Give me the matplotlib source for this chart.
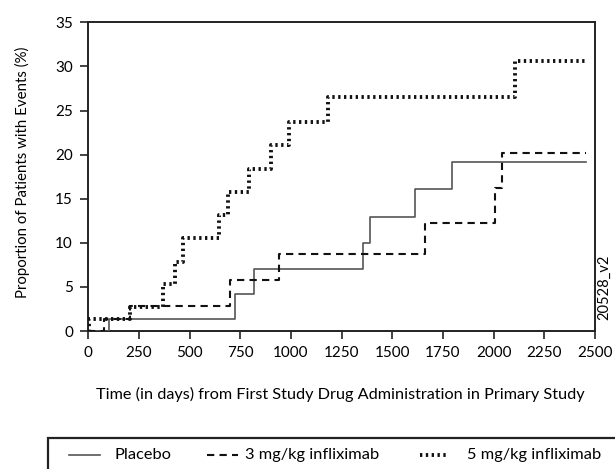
import matplotlib
matplotlib.use("Agg")
import matplotlib.pyplot as plt
from matplotlib.lines import Line2D
from matplotlib.patches import Rectangle

plt.rcParams['font.family'] = ['Lato', 'DejaVu Sans']

# Kaplan-Meier style cumulative event curves (days, %)
placebo_t = [0, 102, 723, 818, 1356, 1392, 1611, 1796, 2454]
placebo_v = [0, 1.33, 4.16, 7.0, 10.0, 12.96, 16.1, 19.2, 19.2]
mg3_t = [0, 75, 206, 698, 940, 1660, 2005, 2043, 2454]
mg3_v = [0, 1.4, 2.83, 5.78, 8.7, 12.2, 16.25, 20.2, 20.2]
mg5_t = [0, 5, 206, 367, 427, 469, 645, 687, 793, 899, 991, 1184, 2107, 2454]
mg5_v = [0, 1.33, 2.7, 5.33, 7.86, 10.6, 13.15, 15.8, 18.4, 21.1, 23.7, 26.56, 30.65, 30.65]
labels = ["Placebo", "3 mg/kg infliximab", "5 mg/kg infliximab"]
xticks = list(range(0, 2501, 250))
yticks = list(range(0, 36, 5))

W, H = 615, 469
fig = plt.figure(figsize=(W / 100, H / 100), dpi=100)
ax = fig.add_axes([88.3 / W, 1 - 331 / H, (595 - 88.3) / W, (331 - 22.3) / H])

styles = [dict(color="#555555", lw=1.2),
          dict(color="#111111", lw=1.5, ls=(0, (3.5, 2.5))),
          dict(color="#111111", lw=2.8, ls=(0, (0.6, 0.9)))]
for (t, v), st in zip([(placebo_t, placebo_v), (mg3_t, mg3_v), (mg5_t, mg5_v)], styles):
    ax.step(t, v, where="post", zorder=3, **st)

ax.set_xlim(0, 2500); ax.set_ylim(0, 35)
ax.set_xticks(xticks); ax.set_yticks(yticks)
ax.tick_params(direction="out", length=6, width=1.2, labelsize=11, pad=5, color="#222222")
for s in ax.spines.values():
    s.set_linewidth(1.4); s.set_color("#222222")
fig.text(340 / W, 1 - 394 / H, "Time (in days) from First Study Drug Administration in Primary Study",
         fontsize=11.7, ha="center", va="center")
fig.text(22 / W, 1 - 172 / H, "Proportion of Patients with Events (%)", fontsize=10.8,
         rotation=90, ha="center", va="center")
fig.text(604 / W, 1 - 287 / H, "20528_v2", rotation=90, fontsize=10.5, ha="center", va="center")

# legend box, partly cut off at right/bottom like the reference
fig.patches.append(Rectangle((48 / W, -0.02), 0.95, (469 - 438) / H + 0.02, transform=fig.transFigure,
                             facecolor="none", edgecolor="#222222", lw=1.6))
hx = [(69, 100), (207, 238), (420, 448)]
tx = [115, 245, 467]
ly = 1 - 455 / H
for (x0, x1), x2, st, lab in zip(hx, tx, styles, labels):
    fig.lines.append(Line2D([x0 / W, x1 / W], [ly, ly], transform=fig.transFigure, **st))
    fig.text(x2 / W, ly, lab, fontsize=11.8, ha="left", va="center")

fig.savefig("out.png", dpi=100)
